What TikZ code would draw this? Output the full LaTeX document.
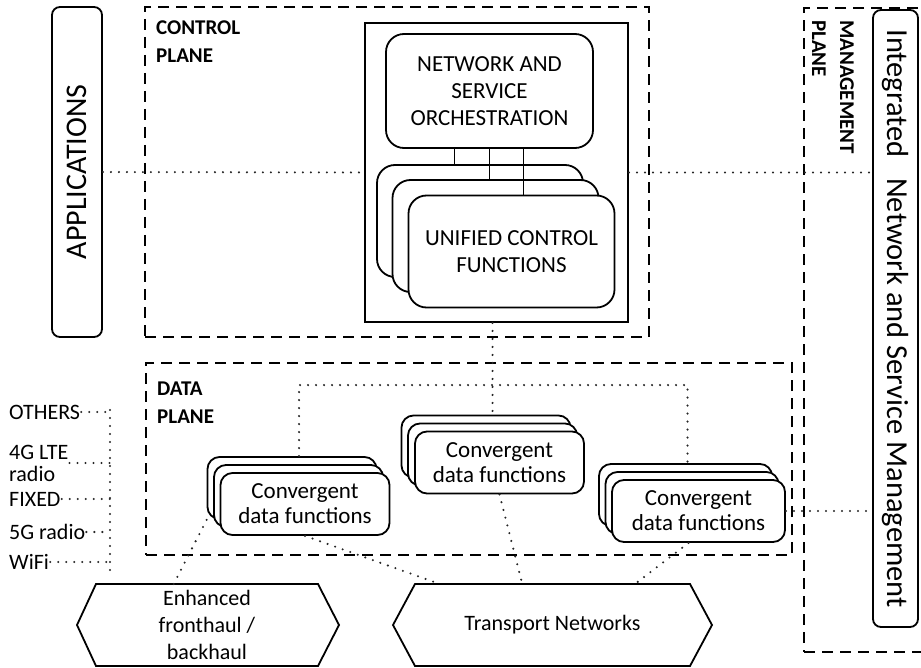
\documentclass[tikz,border=0pt]{standalone}
\usepackage{fontspec}
\setmainfont{Carlito}
\usetikzlibrary{calc}
\newcommand\fsz[2]{\fontsize{#1}{#2}\selectfont}
\tikzset{
  planebox/.style={draw, line width=2.4pt, dash pattern=on 11pt off 7pt},
  planelabel/.style={font=\fsz{21}{28}\bfseries, align=left, inner sep=0pt, anchor=north west},
  fnbox/.style={draw, line width=1.8pt, rounded corners=#1, fill=white, inner sep=0pt, align=center},
  fnbox/.default=12pt,
  ucfbox/.style={fnbox=18pt, minimum width=206pt, minimum height=112pt, font=\fsz{23}{27}},
  cdfbox/.style={fnbox=12pt, minimum width=169pt, minimum height=62pt, font=\fsz{23}{25}},
  hexbody/.style={inner sep=0pt, outer sep=0pt, align=center, font=\fsz{22}{27}},
  hexline/.style={line width=1.8pt, line join=miter},
  dotline/.style={line width=2.3pt, line cap=round, dash pattern=on 0pt off 8pt, black!85},
  access/.style={anchor=west, inner sep=1pt, align=left, font=\fsz{22}{22}},
}
\begin{document}
\begin{tikzpicture}[x=1pt, y=-1pt]
  \useasboundingbox (0,0) rectangle (921,668);

  % planes
  \node[planebox, minimum width=504pt, minimum height=330pt] (ctrlp) at (397,172) {};
  \node[planebox, minimum width=646pt, minimum height=192pt] (datap) at (469,459) {};
  \node[planebox, minimum width=140pt, minimum height=644pt, anchor=north west] (mgmtp) at (803,7) {};
  \node[planelabel] (ctrllbl) at (156,21) {CONTROL\\PLANE};
  \node[planelabel] (datalbl) at (157,382) {DATA\\PLANE};
  \node[planelabel, rotate=-90] (mgmtlbl) at (854,20) {MANAGEMENT\\PLANE};

  % side boxes
  \node[fnbox=8pt, rotate=90, minimum width=330pt, minimum height=50pt, font=\fsz{30}{34}] (apps) at (77,172) {APPLICATIONS};
  \node[fnbox=8pt, rotate=-90, minimum width=617pt, minimum height=45pt, font=\fsz{30.5}{34}] (ins) at (895.5,318.5) {Integrated\hspace{0.45em} Network and Service Management};

  % control plane
  \node[draw, line width=1.8pt, minimum width=263pt, minimum height=299pt] (ctrlbox) at (496.5,172.5) {};
  \node[fnbox=18pt, minimum width=207pt, minimum height=114pt, font=\fsz{23}{27}] (nso) at (489.5,91) {NETWORK AND\\SERVICE\\ORCHESTRATION};
  \node[ucfbox] (ucf1) at (480,221) {};
  \node[ucfbox] (ucf2) at (495.5,236) {};
  \node[ucfbox] (ucf3) at (511.5,251.5) {UNIFIED CONTROL\\FUNCTIONS};
  \draw[line width=1.8pt] ([xshift=-35pt]nso.south) -- ([xshift=-35pt]nso.south |- ucf1.north);
  \draw[line width=1.8pt] (nso.south) -- (nso.south |- ucf2.north);
  \draw[line width=1.8pt] ([xshift=34pt]nso.south) -- ([xshift=34pt]nso.south |- ucf3.north);

  % data plane
  \node[cdfbox] (cdfl1) at (292,488) {};
  \node[cdfbox] (cdfl2) at (298.5,496) {};
  \node[cdfbox] (cdfl3) at (305,504) {Convergent\\data functions};
  \node[cdfbox] (cdfm1) at (486,446.5) {};
  \node[cdfbox] (cdfm2) at (492.5,454.5) {};
  \node[cdfbox] (cdfm3) at (499.5,462.5) {Convergent\\data functions};
  \node[cdfbox, minimum width=173pt] (cdfr1) at (685.5,495) {};
  \node[cdfbox, minimum width=173pt] (cdfr2) at (692,503) {};
  \node[cdfbox, minimum width=173pt] (cdfr3) at (698.5,511) {Convergent\\data functions};

  % transport
  \node[hexbody, minimum width=222pt, minimum height=82pt] (enh) at (207,625) {Enhanced\\fronthaul /\\backhaul};
  \draw[hexline] (enh.north west) -- (enh.north east) -- ([xshift=21pt]enh.east) -- (enh.south east)
    -- (enh.south west) -- ([xshift=-19pt]enh.west) -- cycle;
  \node[hexbody, minimum width=275pt, minimum height=82pt] (trn) at (552.5,625) {Transport Networks};
  \draw[hexline] (trn.north west) -- (trn.north east) -- ([xshift=22pt]trn.east) -- (trn.south east)
    -- (trn.south west) -- ([xshift=-22pt]trn.west) -- cycle;

  % dotted links
  \draw[dotline] (apps.south) -- (ctrlbox.west);
  \draw[dotline] (ctrlbox.east) -- (ctrlbox.east -| ins.south);
  \draw[dotline] (cdfr3.east) -- (cdfr3.east -| ins.south);
  \draw[dotline] (cdfm2.north |- ctrlbox.south) -- (cdfm2.north |- cdfm1.north);
  \draw[dotline] ([xshift=7pt]cdfl1.north) -- ++(0,-71) -| ([xshift=2pt]cdfr1.north);
  \draw[dotline] (cdfl1.south west) -- ($(enh.north west)!0.35!(enh.north east)$);
  \draw[dotline] (cdfl3.south) -- ($(trn.north west)!0.09!(trn.north east)$);
  \draw[dotline] (cdfm3.south) -- ($(trn.north west)!0.39!(trn.north east)$);
  \draw[dotline] ([xshift=-10pt]cdfr3.south) -- ($(trn.north west)!0.8!(trn.north east)$);

  % access
  \coordinate (acct) at (110,410);
  \coordinate (accb) at (110,573);
  \draw[dotline] (acct) -- (accb);
  \node[access] (oth) at (8,412) {OTHERS};
  \node[access] (lte) at (8,463) {4G LTE\\radio};
  \node[access] (fix) at (8,499) {FIXED};
  \node[access] (g5) at (8,532) {5G radio};
  \node[access] (wifi) at (8,562) {WiFi};
  \foreach \n in {oth,lte,fix,g5,wifi}
    \draw[dotline] (\n.east) -- (\n.east -| acct);
\end{tikzpicture}
\end{document}
